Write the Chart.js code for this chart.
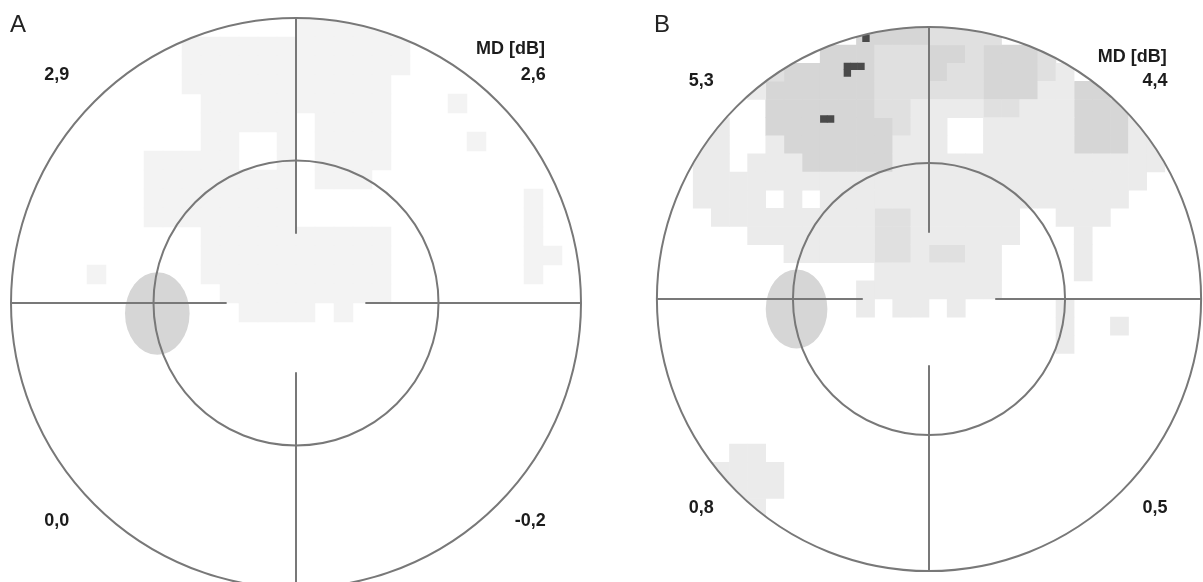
<!DOCTYPE html>
<html>
<head>
<meta charset="utf-8">
<script src="https://cdn.jsdelivr.net/npm/chart.js@4.4.1/dist/chart.umd.min.js"></script>
<style>
  html, body { margin: 0; padding: 0; background: #fff; }
  #wrap { position: relative; width: 1203px; height: 582px; overflow: hidden; }
  canvas { position: absolute; top: 0; }
</style>
</head>
<body>
<div id="wrap">
  <canvas id="fieldA" width="600" height="582" style="left:0"></canvas>
  <canvas id="fieldB" width="603" height="582" style="left:600px"></canvas>
</div>
<script>
// visual field geometry, in degrees
const outerRadius = 30;
const innerRadius = 15;
const crossGap = 7.3;
const blindSpot = { x: -14.6, y: -1.1, rx: 3.4, ry: 4.35 };
const cellDeg = 2;      // size of one grey-scale cell
const defectDeg = 0.75; // size of one deep defect cell

// MD [dB] per quadrant: top-left, top-right, bottom-left, bottom-right
const mdA = [2.9, 2.6, 0.0, -0.2];
const mdB = [5.3, 4.4, 0.8, 0.5];

// grey-scale maps, 30 x 30 cells of 2 degrees, row 0 at the top
// '.' = normal, 1..4 = increasing sensitivity loss
const gridA = [
  '...............11111..........',
  '.........111111111111.........',
  '.........111111111111.........',
  '.........11111111111..........',
  '..........1111111111...1......',
  '..........11111.1111..........',
  '..........11..1.1111....1.....',
  '.......11111..1.1111..........',
  '.......11111111.111...........',
  '.......11111111............1..',
  '.......11111111............1..',
  '..........1111111111.......1..',
  '..........1111111111.......11.',
  '....1.....1111111111.......1..',
  '...........111111111..........',
  '............1111.1............'
];

const gridB = [
  '...........44443333...........',
  '.........4443334434443........',
  '......34444433343344432.......',
  '.....24444443333334442244.....',
  '......444444332222332224442...',
  '...2..4444444322..222224442...',
  '..22..2444444222..2222244422..',
  '..22.22244444222222222222222..',
  '..2222222222222222222222222...',
  '..2222.2.22222222222222222....',
  '...22222222233222222..222.....',
  '.....222222233222222...2......',
  '.......222223323322....2......',
  '............2222222....2......',
  '...........22222222...........',
  '...........2.22.2.....2.......',
  '......................2..2....',
  '......................2.......',
  '..............................',
  '..............................',
  '..............................',
  '..............................',
  '..............................',
  '....22........................',
  '...2222.......................',
  '...2222.......................',
  '....22........................'
];

// deep defects (dark cells) in panel B, degrees
const defectBX = [-9.0, -8.25, -7.5, -9.0, -11.6, -10.85, -6.95];
const defectBY = [25.65, 25.65, 25.65, 24.9, 19.85, 19.85, 28.75];

const levelColors = { 1: '#f3f3f3', 2: '#ebebeb', 3: '#e0e0e0', 4: '#d6d6d6' };

function gridToLevels(grid) {
  const levels = { 1: [], 2: [], 3: [], 4: [] };
  grid.forEach((raw, r) => {
    const row = raw.padEnd(30, '.').slice(0, 30);
    for (let c = 0; c < row.length; c++) {
      const ch = row[c];
      if (!levels[ch]) continue;
      levels[ch].push({
        x: -outerRadius + cellDeg * (c + 0.5),
        y: outerRadius - cellDeg * (r + 0.5)
      });
    }
  });
  return levels;
}

function cellRadius(sizeDeg) {
  return (ctx) => {
    const sx = ctx.chart.scales.x;
    const px = Math.abs(sx.getPixelForValue(sizeDeg) - sx.getPixelForValue(0)) + 0.6;
    return px / Math.SQRT2;
  };
}

const fmt = (v) => v.toFixed(1).replace('.', ',');

const fieldPlugin = {
  id: 'field',
  beforeDatasetsDraw(chart) {
    const { ctx, scales: { x, y } } = chart;
    const cx = x.getPixelForValue(0);
    const cy = y.getPixelForValue(0);
    ctx.save();
    ctx.beginPath();
    ctx.arc(cx, cy, x.getPixelForValue(outerRadius) - cx, 0, Math.PI * 2);
    ctx.clip();
  },
  afterDatasetsDraw(chart, args, opts) {
    const { ctx, scales: { x, y } } = chart;
    ctx.restore();
    const px = (v) => x.getPixelForValue(v);
    const py = (v) => y.getPixelForValue(v);
    const unit = px(1) - px(0);
    const cx = px(0), cy = py(0);

    // blind spot
    ctx.save();
    ctx.fillStyle = '#d6d6d6';
    ctx.beginPath();
    ctx.ellipse(px(blindSpot.x), py(blindSpot.y), blindSpot.rx * unit, blindSpot.ry * unit, 0, 0, Math.PI * 2);
    ctx.fill();

    // rings and cross
    ctx.strokeStyle = '#787878';
    ctx.lineWidth = 2;
    [innerRadius, outerRadius].forEach((r) => {
      ctx.beginPath();
      ctx.arc(cx, cy, r * unit, 0, Math.PI * 2);
      ctx.stroke();
    });
    ctx.beginPath();
    ctx.moveTo(px(0), py(crossGap)); ctx.lineTo(px(0), py(outerRadius));
    ctx.moveTo(px(0), py(-crossGap)); ctx.lineTo(px(0), py(-outerRadius));
    ctx.moveTo(px(-outerRadius), py(0)); ctx.lineTo(px(-crossGap), py(0));
    ctx.moveTo(px(crossGap), py(0)); ctx.lineTo(px(outerRadius), py(0));
    ctx.stroke();

    // MD labels
    ctx.fillStyle = '#1c1c1c';
    ctx.font = 'bold 18px "Liberation Sans", Arial, sans-serif';
    ctx.textBaseline = 'middle';
    const md = opts.md;
    ctx.textAlign = 'left';
    ctx.fillText(fmt(md[0]), px(-26.5), py(24));
    ctx.fillText(fmt(md[2]), px(-26.5), py(-23));
    ctx.textAlign = 'right';
    ctx.fillText('MD [dB]', px(26.2), py(26.7));
    ctx.fillText(fmt(md[1]), px(26.3), py(24));
    ctx.fillText(fmt(md[3]), px(26.3), py(-23));

    // panel letter
    ctx.font = '24px "Liberation Sans", Arial, sans-serif';
    ctx.textAlign = 'left';
    ctx.textBaseline = 'alphabetic';
    ctx.fillStyle = '#222';
    ctx.fillText(opts.letter, opts.letterX, 32);
    ctx.restore();
  }
};

function makePanel(canvasId, grid, defX, defY, md, letter, layout) {
  const levels = gridToLevels(grid);
  const datasets = [1, 2, 3, 4].map((lv) => ({
    data: levels[lv],
    order: 1,
    pointStyle: 'rect',
    pointRadius: cellRadius(cellDeg),
    pointBackgroundColor: levelColors[lv],
    pointBorderWidth: 0
  }));
  datasets.push({
    data: defX.map((v, i) => ({ x: v, y: defY[i] })),
    order: 0,
    pointStyle: 'rect',
    pointRadius: cellRadius(defectDeg),
    pointBackgroundColor: '#4a4a4a',
    pointBorderWidth: 0
  });
  const { w, h, cx, cy, ppu } = layout;
  return new Chart(document.getElementById(canvasId), {
    type: 'scatter',
    data: { datasets },
    plugins: [fieldPlugin],
    options: {
      responsive: false,
      animation: false,
      events: [],
      layout: { padding: 0 },
      plugins: {
        legend: { display: false },
        tooltip: { enabled: false },
        field: { md, letter, letterX: layout.letterX }
      },
      scales: {
        x: { type: 'linear', display: false, min: -cx / ppu, max: (w - cx) / ppu },
        y: { type: 'linear', display: false, min: -(h - cy) / ppu, max: cy / ppu }
      }
    }
  });
}

makePanel('fieldA', gridA, [], [], mdA, 'A',
  { w: 600, h: 582, cx: 296, cy: 303, ppu: 9.5, letterX: 10 });
makePanel('fieldB', gridB, defectBX, defectBY, mdB, 'B',
  { w: 603, h: 582, cx: 329, cy: 299, ppu: 9.07, letterX: 54 });
</script>
</body>
</html>
